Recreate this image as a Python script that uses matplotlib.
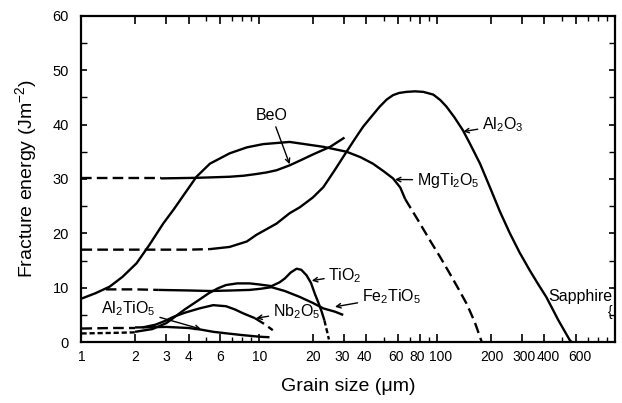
import numpy as np
import matplotlib
matplotlib.use('Agg')
import matplotlib.pyplot as plt
import matplotlib.transforms as mtransforms
from matplotlib.ticker import FixedLocator, NullFormatter

plt.rcParams['font.family'] = ['Liberation Sans', 'DejaVu Sans']
plt.rcParams['mathtext.fontset'] = 'custom'
plt.rcParams['mathtext.rm'] = 'Liberation Sans'
plt.rcParams['mathtext.it'] = 'Liberation Sans:italic'

# --- data (grain size in um, fracture energy in J/m^2) ---
mgti_x = [1, 1.2, 1.44, 1.7, 2.04, 2.4, 2.88, 3.3, 3.73, 4.43, 5.27, 6.8, 8.5, 10.5,
          14.8, 22.9, 30.9, 37, 43.5, 50, 56.4, 62, 66]
mgti_y = [8.0, 9.0, 10.2, 12.0, 14.5, 17.8, 21.8, 24.4, 26.9, 30.4, 32.8, 34.7, 35.8, 36.4,
          36.8, 35.9, 35.0, 34.0, 32.8, 31.4, 30.1, 28.4, 26.3]
mgti_dash_x = [66, 78, 90.8, 104, 117.6, 131, 146, 162, 178]
mgti_dash_y = [26.3, 22.4, 18.75, 15.6, 12.6, 9.9, 7.1, 3.8, 0.0]

al2o3_dash_x = [1, 2, 3, 4, 5.27]
al2o3_dash_y = [17.0, 17.0, 17.0, 17.0, 17.1]
al2o3_x = [5.27, 6.8, 8.5, 9.6, 12.5, 14.8, 16.9, 20, 22.9, 26.5, 30.9, 34.5, 38.3, 43,
           47.5, 52, 56.4, 61, 67, 75, 83.5, 95, 104, 112.6, 125, 139, 152, 174, 197.5,
           225, 256, 290, 331, 370, 410, 480, 555, 570]
al2o3_y = [17.1, 17.5, 18.5, 19.7, 21.8, 23.7, 24.8, 26.6, 28.5, 31.6, 35.0, 37.4, 39.6, 41.6,
           43.3, 44.6, 45.4, 45.8, 46.0, 46.1, 46.0, 45.5, 44.5, 43.3, 41.3, 39.0, 36.6, 32.8, 28.5,
           24.0, 20.0, 16.5, 13.2, 10.6, 8.3, 4.0, 0.4, 0.0]

beo_dash_x = [1, 2, 2.8]
beo_dash_y = [30.1, 30.1, 30.1]
beo_x = [2.8, 4.4, 5.5, 6.8, 8.2, 9.6, 11, 12.5, 14.8, 17.5, 20, 25, 30.1]
beo_y = [30.1, 30.2, 30.3, 30.4, 30.6, 30.9, 31.2, 31.6, 32.5, 33.6, 34.5, 35.9, 37.6]

fe_dash_x = [1.37, 2.0, 2.7]
fe_dash_y = [9.7, 9.7, 9.6]
fe_x = [2.7, 4, 5.3, 7, 8.8, 10.1, 11.7, 13.9, 16.9, 20, 22.9, 26.6, 29.6]
fe_y = [9.6, 9.5, 9.4, 9.5, 9.6, 9.8, 10.1, 9.4, 8.3, 7.2, 6.2, 5.6, 5.0]

tio2_dash_x = [1, 1.5, 2.0]
tio2_dash_y = [1.6, 1.7, 1.8]
tio2_x = [2.0, 2.5, 3.0, 3.3, 3.8, 4.5, 5.2, 5.85, 6.5, 7.5, 8.8, 10, 11.7, 13, 13.9, 15,
          16.2, 17.2, 18.4, 19.5, 20.5, 21.5, 22.4, 23.2]
tio2_y = [1.9, 2.4, 3.5, 4.5, 6.0, 7.6, 9.0, 9.9, 10.5, 10.8, 10.8, 10.6, 10.3, 11.0, 11.7, 12.8,
          13.5, 13.3, 12.3, 10.9, 8.9, 7.2, 5.6, 4.0]
tio2_end_x = [23.2, 24.0, 24.6]
tio2_end_y = [4.0, 2.0, 0.5]

nb_x = [2.2, 2.6, 3.0, 3.26, 3.8, 4.6, 5.5, 6.5, 7.3, 8.1, 9.45]
nb_y = [2.7, 3.2, 4.0, 4.6, 5.4, 6.2, 6.8, 6.6, 6.0, 5.3, 4.4]
nb_dash_x = [9.45, 10.7, 11.9]
nb_dash_y = [4.4, 3.3, 2.2]

alti_dash_x = [1, 1.5, 2.0]
alti_dash_y = [2.5, 2.6, 2.6]
alti_x = [2.0, 3.0, 4.0, 4.7, 5.5, 6.6, 8, 10, 11.4]
alti_y = [2.7, 2.8, 2.6, 2.3, 1.9, 1.6, 1.3, 1.0, 0.9]

xticks = [1, 2, 3, 4, 6, 10, 20, 30, 40, 60, 80, 100, 200, 300, 400, 600]
xminor = [5, 7, 8, 9, 50, 70, 90, 500, 700, 800, 900]
# small sideways nudges (pixels) of crowded tick labels, as in the original
label_nudge = {30: -2, 40: -2, 60: -2, 80: -2.5, 100: 3, 200: 1, 300: 1.5, 400: 3.5, 600: 4}

fig = plt.figure(figsize=(6.22, 4.03), dpi=100)
ax = fig.add_axes([0.131, 0.151, 0.858, 0.810])

lw = 1.7
solid = dict(color='black', lw=lw, solid_capstyle='butt')
dash = dict(color='black', lw=lw, dashes=(4.5, 2.2))
dot = dict(color='black', lw=lw, dashes=(2.2, 1.2))

ax.plot(mgti_x, mgti_y, **solid)
ax.plot(mgti_dash_x, mgti_dash_y, **dash)
ax.plot(al2o3_dash_x, al2o3_dash_y, **dash)
ax.plot(al2o3_x, al2o3_y, **solid)
ax.plot(beo_dash_x, beo_dash_y, **dash)
ax.plot(beo_x, beo_y, **solid)
ax.plot(fe_dash_x, fe_dash_y, **dash)
ax.plot(fe_x, fe_y, **solid)
ax.plot(tio2_dash_x, tio2_dash_y, **dot)
ax.plot(tio2_x, tio2_y, **solid)
ax.plot(tio2_end_x, tio2_end_y, **dot)
ax.plot(nb_x, nb_y, **solid)
ax.plot(nb_dash_x, nb_dash_y, **dash)
ax.plot(alti_dash_x, alti_dash_y, **dash)
ax.plot(alti_x, alti_y, **solid)

ax.set_xscale('log')
ax.set_xlim(1, 1000)
ax.set_ylim(0, 60)
ax.xaxis.set_major_locator(FixedLocator(xticks))
ax.set_xticklabels([str(v) for v in xticks])
ax.xaxis.set_minor_locator(FixedLocator(xminor))
ax.xaxis.set_minor_formatter(NullFormatter())
ax.set_yticks(range(0, 61, 10))
ax.yaxis.set_minor_locator(FixedLocator(range(5, 60, 10)))

ax.tick_params(which='major', direction='in', top=True, right=True, length=6, width=1.2,
               labelsize=10, pad=6)
ax.tick_params(which='minor', direction='in', top=True, right=True, length=3.5, width=1.0)
ax.tick_params(axis='y', which='both', length=4)
ax.tick_params(axis='y', which='major', labelsize=10.5, pad=9)
for s in ax.spines.values():
    s.set_linewidth(1.6)

for v, tick in zip(xticks, ax.xaxis.get_major_ticks()):
    if v in label_nudge:
        off = mtransforms.ScaledTranslation(label_nudge[v] / 100, 0, fig.dpi_scale_trans)
        tick.label1.set_transform(tick.label1.get_transform() + off)

ax.set_xlabel('Grain size (\u03bcm)', fontsize=14, labelpad=10)
ax.set_ylabel(r'Fracture energy (Jm$^{-2}$)', fontsize=14, labelpad=10)

arrow = dict(arrowstyle='->', color='black', lw=1.0, shrinkA=1, shrinkB=0,
             mutation_scale=8)
fs = 11.5
ax.annotate('BeO', xy=(14.8, 32.7), xytext=(11.7, 41.7), ha='center', va='center',
            fontsize=fs, arrowprops=arrow)
ax.annotate(r'Al$_2$O$_3$', xy=(140, 38.7), xytext=(178, 39.9), ha='left', va='center',
            fontsize=fs, arrowprops=arrow)
ax.annotate(r'MgTi$_2$O$_5$', xy=(57.8, 29.9), xytext=(76.6, 29.8), ha='left', va='center',
            fontsize=fs, arrowprops=arrow)
ax.annotate(r'TiO$_2$', xy=(19.7, 11.3), xytext=(24.4, 12.3), ha='left', va='center',
            fontsize=fs, arrowprops=arrow)
ax.annotate(r'Fe$_2$TiO$_5$', xy=(26.6, 6.5), xytext=(37.6, 8.3), ha='left', va='center',
            fontsize=fs, arrowprops=arrow)
ax.annotate(r'Nb$_2$O$_5$', xy=(9.6, 4.4), xytext=(11.9, 5.6), ha='left', va='center',
            fontsize=fs, arrowprops=arrow)
ax.annotate(r'Al$_2$TiO$_5$', xy=(4.7, 2.4), xytext=(1.29, 6.2), ha='left', va='center',
            fontsize=fs, arrowprops=arrow)
ax.text(965, 8.3, 'Sapphire', ha='right', va='center', fontsize=fs)
ax.text(935, 5.6, '{', ha='center', va='center', fontsize=10)

fig.savefig('out.png', dpi=100)
